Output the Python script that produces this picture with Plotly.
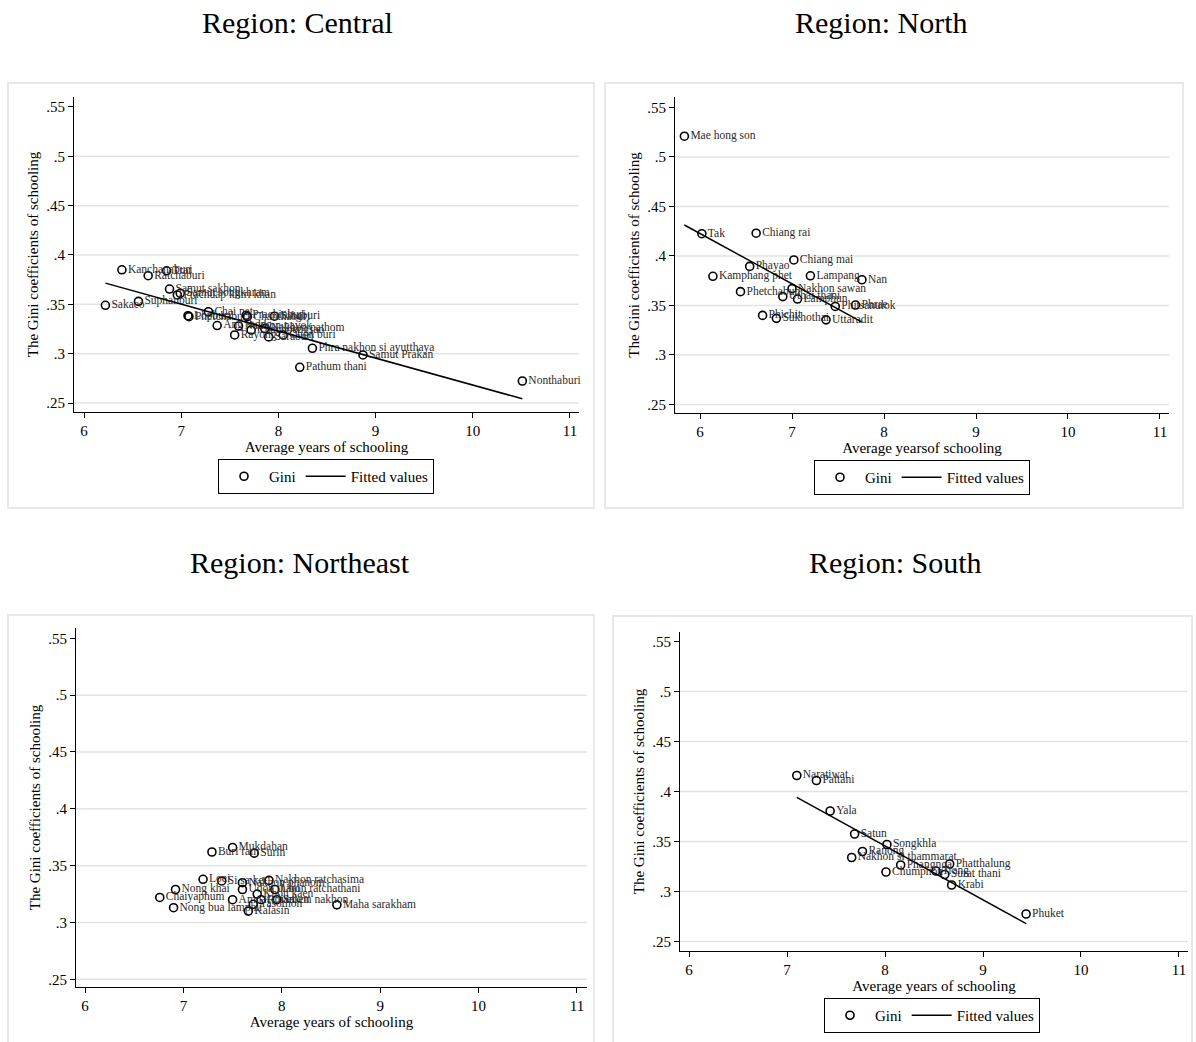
import numpy as np
import plotly.graph_objects as go

FONT = "Liberation Serif, Times New Roman, serif"
W, H = 1196, 1042

# ---------------- data ----------------
central_names = ["Sakaeo", "Kanchanaburi", "Suphanburi", "Ratchaburi", "Trat", "Samut sakhon",
                 "Samut songkhram", "Prachuap khiri khan", "Lopburi", "Phetchaburi", "Chai nat",
                 "Ang thong", "Nakhon nayok", "Rayong", "Prachinburi", "Singburi", "Chachoengsao",
                 "Nakhon pathom", "Saraburi", "Chon buri", "Chanthaburi",
                 "Phra nakhon si ayutthaya", "Samut Prakan", "Pathum thani", "Nonthaburi"]
central_x = [6.22, 6.39, 6.56, 6.66, 6.85, 6.88, 6.99, 6.96, 7.07, 7.08, 7.28, 7.37, 7.59, 7.55,
             7.67, 7.96, 7.72, 7.86, 7.90, 8.05, 7.68, 8.35, 8.87, 8.22, 10.51]
central_y = [0.349, 0.385, 0.353, 0.379, 0.384, 0.3655, 0.3612, 0.3595, 0.3385, 0.3375, 0.3425,
             0.3285, 0.328, 0.319, 0.339, 0.338, 0.324, 0.3255, 0.317, 0.319, 0.3375,
             0.3055, 0.2987, 0.2862, 0.2723]

north_names = ["Mae hong son", "Tak", "Chiang rai", "Chiang mai", "Phayao", "Kamphang phet",
               "Lampang", "Nan", "Nakhon sawan", "Phetchabun", "Uthai thani", "Lamphun",
               "Phitsanulok", "Phrae", "Phichit", "Sukhothai", "Uttaradit"]
north_x = [5.83, 6.02, 6.61, 7.02, 6.54, 6.14, 7.20, 7.76, 7.00, 6.44, 6.90, 7.06, 7.47, 7.69,
           6.68, 6.83, 7.37]
north_y = [0.521, 0.4225, 0.423, 0.396, 0.3895, 0.3795, 0.380, 0.376, 0.367, 0.364, 0.359,
           0.3565, 0.349, 0.3505, 0.340, 0.337, 0.3355]

northeast_names = ["Mukdahan", "Buri ram", "Surin", "Loei", "Si sa ket", "Nakhon phanom",
                   "Nakhon ratchasima", "Nong khai", "Udon thani", "Ubon ratchathani",
                   "Chaiyaphum", "Amnat charoen", "Khon kaen", "Roi et", "Yasothon",
                   "Sakon nakhon", "Maha sarakham", "Nong bua lamphu", "Kalasin"]
northeast_x = [7.50, 7.29, 7.72, 7.20, 7.39, 7.60, 7.87, 6.92, 7.60, 7.93, 6.76, 7.50, 7.75,
               7.79, 7.71, 7.95, 8.56, 6.90, 7.66]
northeast_y = [0.366, 0.362, 0.361, 0.338, 0.3365, 0.335, 0.337, 0.329, 0.329, 0.329, 0.322,
               0.320, 0.325, 0.320, 0.316, 0.320, 0.3155, 0.313, 0.310]

south_names = ["Naratiwat", "Pattani", "Yala", "Satun", "Songkhla", "Ranong",
               "Nakhon si thammarat", "Phangnga", "Phatthalung", "Chumphon", "Trang",
               "Surat thani", "Krabi", "Phuket"]
south_x = [7.10, 7.30, 7.44, 7.69, 8.02, 7.77, 7.66, 8.16, 8.66, 8.01, 8.52, 8.61, 8.68, 9.44]
south_y = [0.416, 0.411, 0.3805, 0.3575, 0.347, 0.340, 0.334, 0.3265, 0.3275, 0.3195, 0.3205,
           0.317, 0.3065, 0.2775]

x_ticks = [6, 7, 8, 9, 10, 11]
y_ticks = [0.25, 0.30, 0.35, 0.40, 0.45, 0.50, 0.55]
y_ticktext = [".25", ".3", ".35", ".4", ".45", ".5", ".55"]

panels = [
    dict(title="Region: Central", names=central_names, x=central_x, y=central_y,
         xtitle="Average years of schooling", fit=True, legend="legend",
         px=(74, 579), py=(97, 412), xr=(5.897, 11.093), yr=(0.2409, 0.5601),
         title_pos=(297, 22), frame=(8, 83, 594, 508)),
    dict(title="Region: North", names=north_names, x=north_x, y=north_y,
         xtitle="Average yearsof schooling", fit=True, legend="legend2",
         px=(675, 1169), py=(97, 413), xr=(5.728, 11.098), yr=(0.2414, 0.5606),
         title_pos=(881, 22), frame=(605, 83, 1183, 508)),
    dict(title="Region: Northeast", names=northeast_names, x=northeast_x, y=northeast_y,
         xtitle="Average years of schooling", fit=False, legend=None,
         px=(76, 587), py=(628, 987), xr=(5.9085, 11.102), yr=(0.2432, 0.5591),
         title_pos=(300, 562), frame=(8, 615, 594, 1060)),
    dict(title="Region: South", names=south_names, x=south_x, y=south_y,
         xtitle="Average years of schooling", fit=True, legend="legend3",
         px=(680, 1188), py=(632, 951), xr=(5.908, 11.092), yr=(0.2405, 0.5595),
         title_pos=(895, 562), frame=(613, 616, 1192, 1060)),
]

fig = go.Figure()
shapes = []
annotations = []
layout = {}

for i, p in enumerate(panels):
    k = "" if i == 0 else str(i + 1)
    xa, ya = "x" + k, "y" + k
    leg = p["legend"]

    xs = np.array(p["x"])
    ys = np.array(p["y"])

    # markers
    fig.add_trace(go.Scatter(
        x=p["x"], y=p["y"], mode="markers", name="Gini", xaxis=xa, yaxis=ya,
        marker=dict(symbol="circle-open", size=8, color="black", line=dict(width=1.6, color="black")),
        showlegend=leg is not None, legend=leg if leg else "legend", hoverinfo="skip"))
    # labels
    fig.add_trace(go.Scatter(
        x=p["x"], y=p["y"], mode="markers+text", text=p["names"], textposition="middle right",
        textfont=dict(family=FONT, size=11.5, color="#2a2a2a"), xaxis=xa, yaxis=ya,
        marker=dict(size=8, color="rgba(0,0,0,0)"), showlegend=False, hoverinfo="skip",
        cliponaxis=False))
    # fitted values (OLS)
    if p["fit"]:
        b, a = np.polyfit(xs, ys, 1)
        fx = np.array([xs.min(), xs.max()])
        fig.add_trace(go.Scatter(
            x=fx, y=a + b * fx, mode="lines", name="Fitted values", xaxis=xa, yaxis=ya,
            line=dict(color="black", width=1.5), showlegend=True, legend=leg, hoverinfo="skip"))

    x0, x1 = p["px"]
    y0, y1 = p["py"]
    layout["xaxis" + k] = dict(
        domain=[x0 / W, x1 / W], range=list(p["xr"]), anchor=ya,
        tickvals=x_ticks, ticktext=[str(t) for t in x_ticks],
        showline=True, linecolor="black", linewidth=1.2, ticks="outside", ticklen=5,
        tickcolor="black", tickwidth=1.2, showgrid=False, zeroline=False,
        tickfont=dict(family=FONT, size=15, color="black"),
        title=dict(text=p["xtitle"], font=dict(family=FONT, size=15, color="black"), standoff=0),
        fixedrange=True)
    layout["yaxis" + k] = dict(
        domain=[1 - y1 / H, 1 - y0 / H], range=list(p["yr"]), anchor=xa,
        tickvals=y_ticks, ticktext=y_ticktext,
        showline=True, linecolor="black", linewidth=1.2, ticks="outside", ticklen=5,
        tickcolor="black", tickwidth=1.2, showgrid=False, zeroline=False,
        tickfont=dict(family=FONT, size=15, color="black"),
        title=dict(text="The Gini coefficients of schooling",
                   font=dict(family=FONT, size=15, color="black"), standoff=3),
        fixedrange=True)

    # horizontal gridlines
    for t in y_ticks[:-1]:
        shapes.append(dict(type="line", xref=xa + " domain", yref=ya, x0=0, x1=1, y0=t, y1=t,
                           line=dict(color="#e3e3e3", width=1.5), layer="below"))
    # panel frame
    fx0, fy0, fx1, fy1 = p["frame"]
    shapes.append(dict(type="rect", xref="paper", yref="paper",
                       x0=fx0 / W, x1=fx1 / W, y0=1 - fy1 / H, y1=1 - fy0 / H,
                       line=dict(color="#e8e8e8", width=2), fillcolor="rgba(0,0,0,0)", layer="below"))
    tx, ty = p["title_pos"]
    annotations.append(dict(text=p["title"], x=tx / W, y=1 - ty / H, xref="paper", yref="paper",
                            xanchor="center", yanchor="middle", showarrow=False,
                            font=dict(family=FONT, size=30, color="black")))

leg_common = dict(orientation="h", bordercolor="black", borderwidth=1, bgcolor="white",
                  font=dict(family=FONT, size=15, color="black"), xanchor="center", yanchor="top",
                  itemwidth=40, tracegroupgap=0)
layout["legend"] = dict(leg_common, x=326 / W, y=1 - 459 / H)
layout["legend2"] = dict(leg_common, x=922 / W, y=1 - 460 / H)
layout["legend3"] = dict(leg_common, x=932 / W, y=1 - 998 / H)

fig.update_layout(
    width=W, height=H, margin=dict(l=0, r=0, t=0, b=0),
    paper_bgcolor="white", plot_bgcolor="rgba(0,0,0,0)",
    shapes=shapes, annotations=annotations, **layout)

fig.write_html("out.html", config={"displayModeBar": False},
               post_script="document.body.style.margin='0px';")
